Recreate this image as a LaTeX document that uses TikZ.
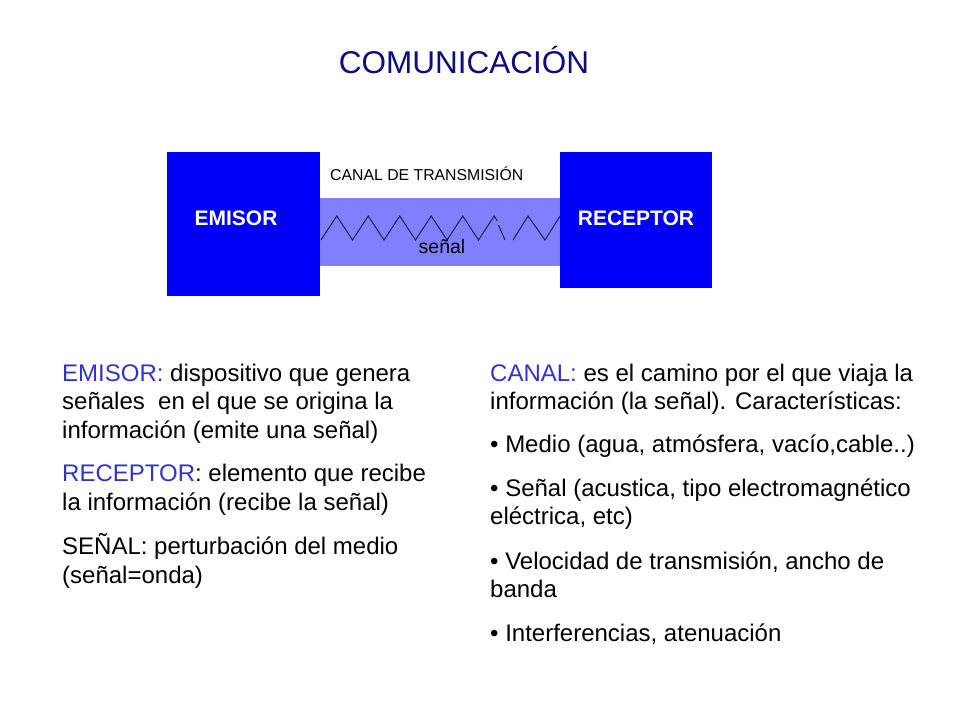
\documentclass[tikz,border=0pt]{standalone}
\usepackage{fontspec}
\setmainfont{Liberation Sans}
\usetikzlibrary{positioning}
\definecolor{boxblue}{RGB}{0,0,250}
\definecolor{bandblue}{RGB}{128,128,255}
\definecolor{titleblue}{RGB}{12,12,128}
\definecolor{keyblue}{RGB}{51,51,204}
\definecolor{waveline}{RGB}{30,30,80}
\newcommand{\keyw}[1]{\textcolor{keyblue}{#1}}

\begin{document}
\begin{tikzpicture}[x=1pt,y=-1pt,
  blk/.style={fill=boxblue,draw=none,inner sep=0pt,anchor=north west},
  lbl/.style={text=white,font=\bfseries\fontsize{21}{25}\selectfont,inner sep=0pt},
  wave/.style={draw=waveline,line width=1pt},
  para/.style={anchor=base west,align=left,inner sep=0pt,font=\fontsize{24}{28.5}\selectfont}]
\useasboundingbox (0,0) rectangle (960,720);
% canal
\fill[bandblue] (320,198) rectangle (560,266);
\node[blk,minimum width=153pt,minimum height=144pt] (emisor) at (167,152) {};
\node[blk,minimum width=152pt,minimum height=136pt] (receptor) at (560,152) {};
\node[lbl] (emlbl) at (236,218) {EMISOR};
\node[lbl] (relbl) at (636,218) {RECEPTOR};
% senal
\draw[wave] (321,240) foreach \i in {0,...,4}{ -- ++(15.75,-24) -- ++(15.75,24)}
  -- ++(15.75,-24) -- ++(3,5);
\draw[wave] (498.5,225) -- (505,240);
\draw[wave] (513,240) -- (528,216) -- (545,240) -- (560,216);
\node[anchor=base west,inner sep=0pt,font=\fontsize{15.8}{18}\selectfont] (canal) at (330,180.5) {CANAL DE TRANSMISIÓN};
\node[anchor=base,inner sep=0pt,font=\fontsize{19.5}{22}\selectfont] (senal) at (442,253) {señal};
\node[text=titleblue,inner sep=0pt,font=\fontsize{31.5}{36}\selectfont] (title) at (464,60) {COMUNICACIÓN};
% textos (base = ultima linea)
\node[para] (p1) at (62,438) {\keyw{EMISOR:} dispositivo que genera\\señales~ en el que se origina la\\información (emite una señal)};
\node[para] (p2) at (62,510) {\keyw{RECEPTOR}: elemento que recibe\\la información (recibe la señal)};
\node[para] (p3) at (62,583) {SEÑAL: perturbación del medio\\(señal=onda)};
\node[para] (q1) at (490,409.5) {\keyw{CANAL:} es el camino por el que viaja la\\información (la señal). Características:};
\node[para] (q2) at (490,452) {• Medio (agua, atmósfera, vacío,cable..)};
\node[para] (q3) at (490,524.5) {• Señal (acustica, tipo electromagnético\\eléctrica, etc)};
\node[para] (q4) at (490,597.5) {• Velocidad de transmisión, ancho de\\banda};
\node[para] (q5) at (490,641) {• Interferencias, atenuación};
\end{tikzpicture}
\end{document}
